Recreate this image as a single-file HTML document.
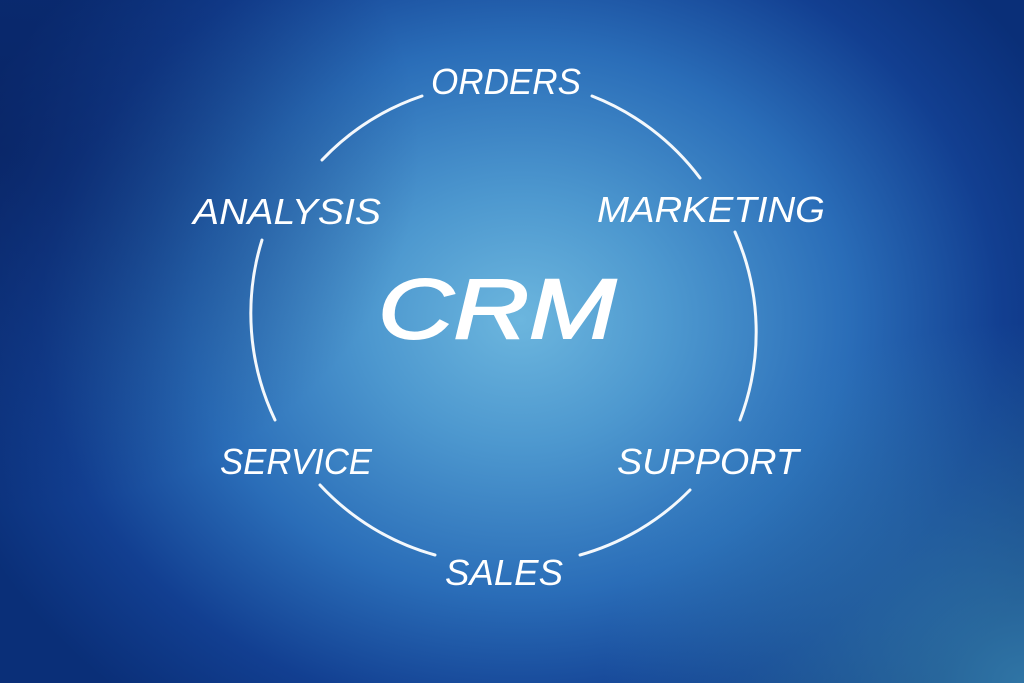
<!DOCTYPE html>
<html><head><meta charset="utf-8"><style>
html,body{margin:0;padding:0;}
body{width:1024px;height:683px;overflow:hidden;background:#0d3a8a;}
.bg{position:absolute;left:0;top:0;width:1024px;height:683px;
background:radial-gradient(ellipse 600px 500px at 520px 320px,#6cb6de 0%,#4d98cf 25%,#2a6db8 55%,#123f91 80%,#0a2f78 100%);}
.bg2{position:absolute;left:0;top:0;width:1024px;height:683px;
background:radial-gradient(ellipse 420px 360px at 1024px 683px,rgba(60,140,180,0.75),rgba(60,140,180,0) 100%);}
.bg3{position:absolute;left:0;top:0;width:1024px;height:683px;
background:radial-gradient(ellipse 420px 360px at 0px 150px,rgba(8,30,90,0.6),rgba(8,30,90,0) 100%);}
svg{position:absolute;left:0;top:0;}
text{font-family:"Liberation Sans",sans-serif;fill:#fff;font-style:italic;}
</style></head><body>
<div class="bg"></div><div class="bg2"></div><div class="bg3"></div>
<svg width="1024" height="683" viewBox="0 0 1024 683">
<g fill="none" stroke="#fff" stroke-width="3" stroke-linecap="round" opacity="0.95">
<path d="M592 96 A247 247 0 0 1 700 178"/>
<path d="M735 232 A247 247 0 0 1 740 420"/>
<path d="M690 490 A247 247 0 0 1 580 555"/>
<path d="M435 555 A247 247 0 0 1 320 485"/>
<path d="M275 420 A247 247 0 0 1 262 240"/>
<path d="M322 160 A247 247 0 0 1 422 96"/>
</g>
<g font-size="36" text-anchor="middle">
<text x="506" y="94" textLength="150" lengthAdjust="spacingAndGlyphs">ORDERS</text>
<text x="711" y="222" textLength="228" lengthAdjust="spacingAndGlyphs">MARKETING</text>
<text x="287" y="224" textLength="188" lengthAdjust="spacingAndGlyphs">ANALYSIS</text>
<text x="708" y="474" textLength="182" lengthAdjust="spacingAndGlyphs">SUPPORT</text>
<text x="296" y="474" textLength="152" lengthAdjust="spacingAndGlyphs">SERVICE</text>
<text x="504" y="585" textLength="118" lengthAdjust="spacingAndGlyphs">SALES</text>
</g>
<text x="497" y="338" font-size="84" text-anchor="middle" textLength="238" lengthAdjust="spacingAndGlyphs" stroke="#fff" stroke-width="2">CRM</text>
</svg>
</body></html>
